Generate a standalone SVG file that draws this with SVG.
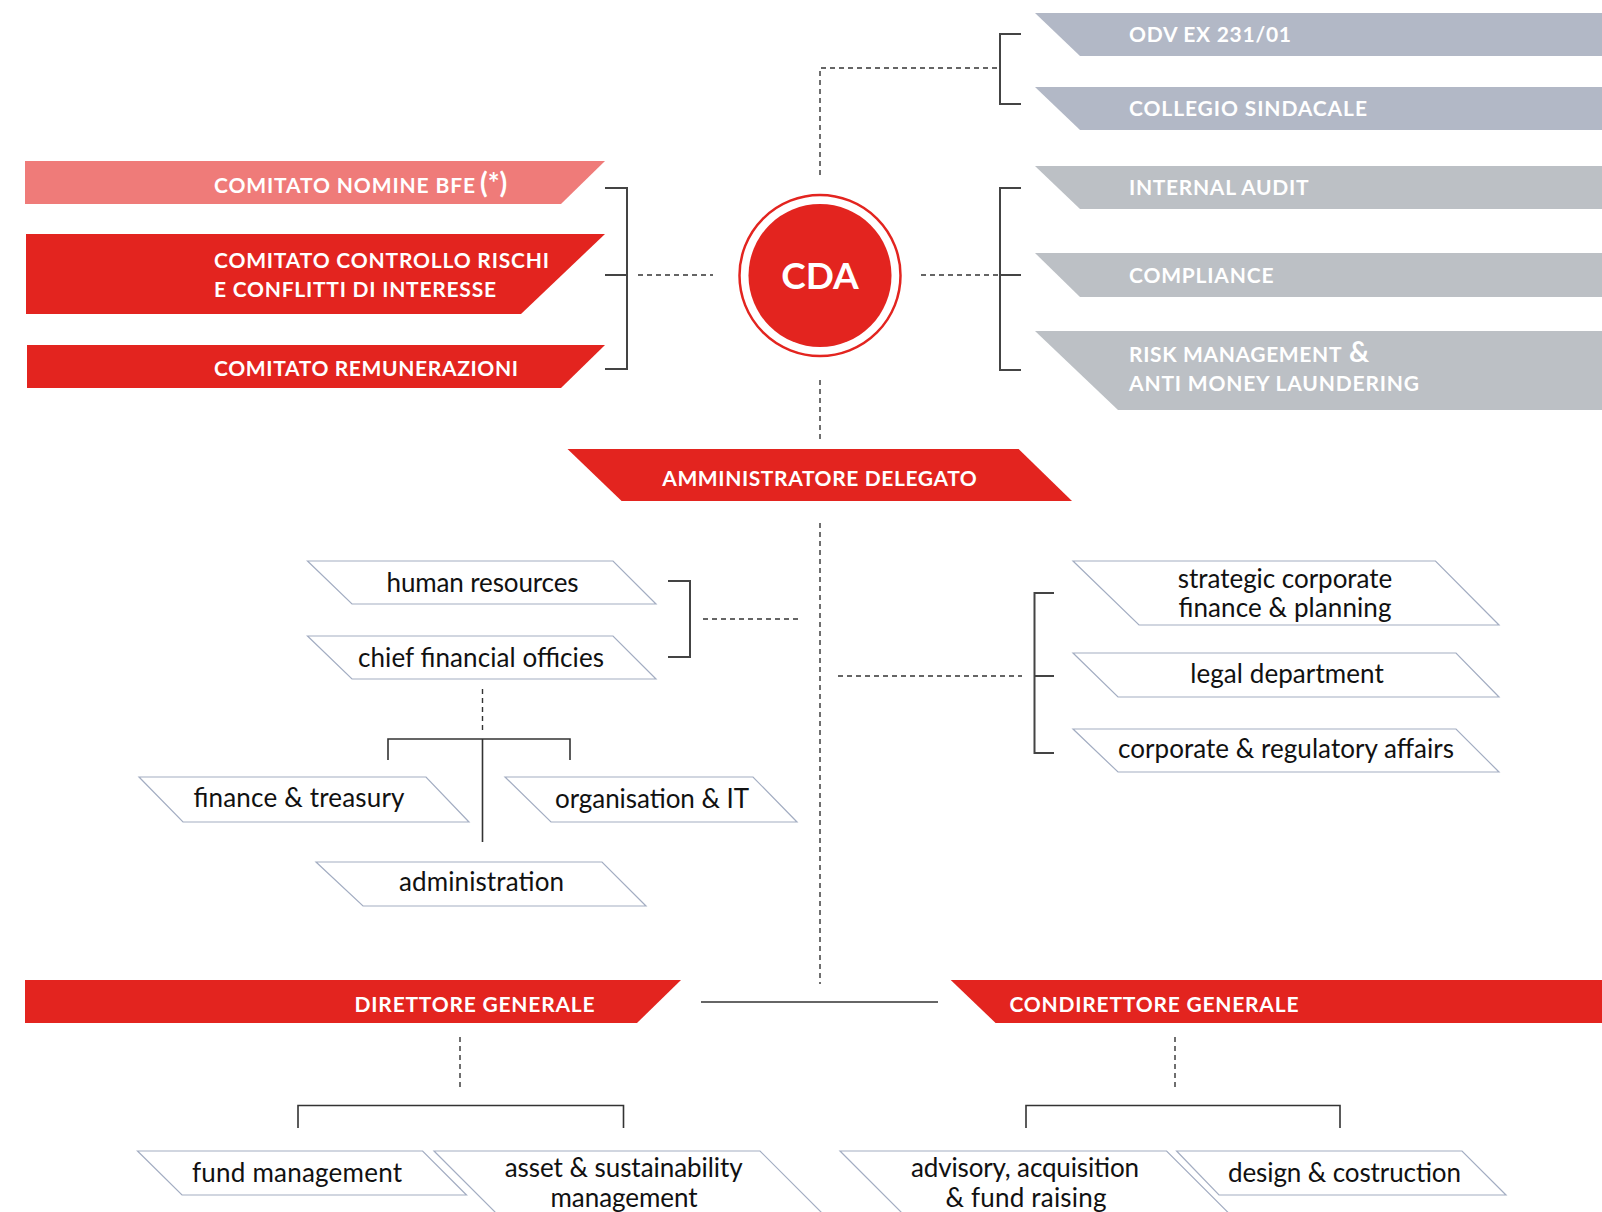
<svg xmlns="http://www.w3.org/2000/svg" width="1602" height="1212" viewBox="0 0 1602 1212">
<style>
.red{fill:#e3241f}
.pink{fill:#ef7b79}
.bg1{fill:#b2b8c6}
.bg2{fill:#bcc0c5}
.wt{fill:#ffffff;font-family:Lato,"Open Sans",sans-serif;font-weight:700;font-size:21px}
.big{font-size:28px}
.cda{font-size:37px}
.dept{fill:#ffffff;stroke:#a3adc2;stroke-width:1.2}
.dt{fill:#111111;font-family:Lato,"Open Sans",sans-serif;font-size:26px;text-anchor:middle}
.br{fill:none;stroke:#444444;stroke-width:2}
.ds{fill:none;stroke:#333333;stroke-width:1.4;stroke-dasharray:5 4}
.sl{fill:none;stroke:#333333;stroke-width:1.6}
</style>
<rect width="1602" height="1212" fill="#ffffff"/>
<g id="connectors">
<path class="br" d="M605 188H627V369H605M605 275H627"/>
<path class="ds" d="M638 275H713"/>
<path class="ds" d="M921 275H1000"/>
<path class="br" d="M1021 188H1000V370H1021M1000 275H1021"/>
<path class="br" d="M1021 34H1000V104H1021"/>
<path class="ds" d="M820 175V68H1000"/>
<path class="ds" d="M820 380V440"/>
<path class="ds" d="M820 523V984"/>
<path class="br" d="M668 581H690V657H668"/>
<path class="ds" d="M703 619H801"/>
<path class="ds" d="M482.5 689V732"/>
<path class="sl" d="M388 760V739H570V760M482.5 739V842"/>
<path class="ds" d="M838 676H1022"/>
<path class="br" d="M1054 593H1034.5V753H1054M1034.5 676H1054"/>
<path class="sl" d="M701 1002H938"/>
<path class="ds" d="M460 1037V1089"/>
<path class="sl" d="M298 1128V1105.5H623.5V1128"/>
<path class="ds" d="M1175 1037V1089"/>
<path class="sl" d="M1026 1128V1105.5H1340V1128"/>
</g>
<g id="comitato-nomine">
<polygon class="pink" points="25,161 605,161 561,204 25,204"/>
<text class="wt" x="214" y="193" textLength="261">COMITATO NOMINE BFE</text>
<text class="wt big" x="480" y="193">(*)</text>
</g>
<g id="comitato-controllo">
<polygon class="red" points="26,234 605,234 521,314 26,314"/>
<text class="wt" x="214" y="268" textLength="335">COMITATO CONTROLLO RISCHI</text>
<text class="wt" x="214" y="297" textLength="282">E CONFLITTI DI INTERESSE</text>
</g>
<g id="comitato-remunerazioni">
<polygon class="red" points="27,345 605,345 561,388 27,388"/>
<text class="wt" x="214" y="376" textLength="304">COMITATO REMUNERAZIONI</text>
</g>
<g id="cda">
<circle cx="820" cy="275.5" r="80.5" fill="#ffffff" stroke="#e3241f" stroke-width="2.5"/>
<circle class="red" cx="820" cy="275.5" r="71.5"/>
<text class="wt cda" x="820" y="289" text-anchor="middle">CDA</text>
</g>
<g id="odv">
<polygon class="bg1" points="1035,13 1602,13 1602,56 1080,56"/>
<text class="wt" x="1129" y="42" textLength="162">ODV EX 231/01</text>
</g>
<g id="collegio-sindacale">
<polygon class="bg1" points="1035,87 1602,87 1602,130 1080,130"/>
<text class="wt" x="1129" y="116" textLength="238">COLLEGIO SINDACALE</text>
</g>
<g id="internal-audit">
<polygon class="bg2" points="1035,166 1602,166 1602,209 1080,209"/>
<text class="wt" x="1129" y="195" textLength="179.5">INTERNAL AUDIT</text>
</g>
<g id="compliance">
<polygon class="bg2" points="1035,253 1602,253 1602,297 1080,297"/>
<text class="wt" x="1129" y="283" textLength="144.5">COMPLIANCE</text>
</g>
<g id="risk-management">
<polygon class="bg2" points="1035,331 1602,331 1602,410 1118,410"/>
<text class="wt" x="1129" y="362" textLength="212.5">RISK MANAGEMENT</text>
<text class="wt big" x="1349" y="362">&amp;</text>
<text class="wt" x="1129" y="391" textLength="290">ANTI MONEY LAUNDERING</text>
</g>
<g id="amministratore-delegato">
<polygon class="red" points="567.5,449 1018.6,449 1072,501 621.6,501"/>
<text class="wt" x="819.5" y="486" text-anchor="middle" textLength="314.6">AMMINISTRATORE DELEGATO</text>
</g>
<g id="human-resources">
<polygon class="dept" points="307.5,561 613,561 656,604 352,604"/>
<text class="dt" x="482.5" y="592" textLength="192">human resources</text>
</g>
<g id="chief-financial-officies">
<polygon class="dept" points="307.5,636 613,636 656,679 352,679"/>
<text class="dt" x="481" y="667" textLength="246">chief financial officies</text>
</g>
<g id="finance-treasury">
<polygon class="dept" points="139,777 426,777 469,822 183,822"/>
<text class="dt" x="299" y="807" textLength="211">finance &amp; treasury</text>
</g>
<g id="organisation-it">
<polygon class="dept" points="505,777 753,777 797,822 551,822"/>
<text class="dt" x="652" y="808" textLength="194">organisation &amp; IT</text>
</g>
<g id="administration">
<polygon class="dept" points="316,862 602,862 646,906 363,906"/>
<text class="dt" x="481.5" y="891" textLength="165">administration</text>
</g>
<g id="strategic-corporate-finance">
<polygon class="dept" points="1073,561 1435.5,561 1499,625 1139,625"/>
<text class="dt" x="1285" y="588" textLength="214.5">strategic corporate</text>
<text class="dt" x="1285" y="617" textLength="213">finance &amp; planning</text>
</g>
<g id="legal-department">
<polygon class="dept" points="1073,653 1456,653 1499,697 1118,697"/>
<text class="dt" x="1287" y="683" textLength="193.5">legal department</text>
</g>
<g id="corporate-regulatory-affairs">
<polygon class="dept" points="1073,729 1456,729 1499,772 1118,772"/>
<text class="dt" x="1286" y="758" textLength="336">corporate &amp; regulatory affairs</text>
</g>
<g id="direttore-generale">
<polygon class="red" points="25,980 681,980 637,1023 25,1023"/>
<text class="wt" x="354.6" y="1012" textLength="240">DIRETTORE GENERALE</text>
</g>
<g id="condirettore-generale">
<polygon class="red" points="950.7,980 1602,980 1602,1023 995.6,1023"/>
<text class="wt" x="1009.5" y="1012" textLength="289">CONDIRETTORE GENERALE</text>
</g>
<g id="fund-management">
<polygon class="dept" points="137.5,1151 422.6,1151 466.5,1195 182,1195"/>
<text class="dt" x="297" y="1182" textLength="210">fund management</text>
</g>
<g id="asset-sustainability-management">
<polygon class="dept" points="434,1151 760,1151 849,1240 523,1240"/>
<text class="dt" x="623.7" y="1177" textLength="238">asset &amp; sustainability</text>
<text class="dt" x="624" y="1207" textLength="147">management</text>
</g>
<g id="advisory-acquisition">
<polygon class="dept" points="840,1151 1166.6,1151 1255.6,1240 929,1240"/>
<text class="dt" x="1025" y="1177" textLength="228">advisory, acquisition</text>
<text class="dt" x="1026" y="1207" textLength="161">&amp; fund raising</text>
</g>
<g id="design-costruction">
<polygon class="dept" points="1176.6,1151 1462,1151 1506,1195 1219,1195"/>
<text class="dt" x="1344.5" y="1182" textLength="233">design &amp; costruction</text>
</g>
</svg>
